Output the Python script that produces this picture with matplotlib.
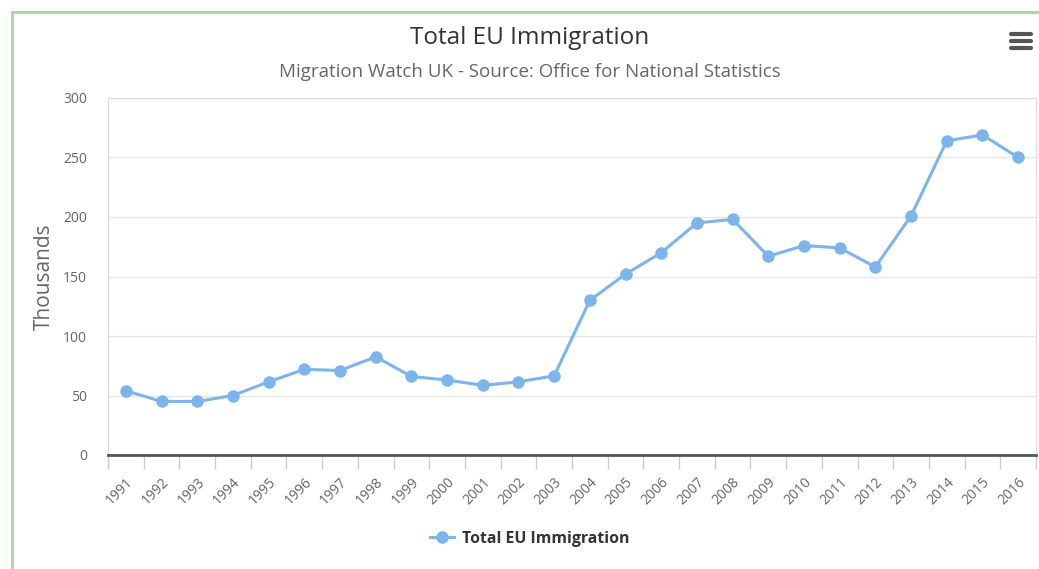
import matplotlib
matplotlib.use("Agg")
import matplotlib.pyplot as plt
from matplotlib.lines import Line2D
import numpy as np

years = [str(y) for y in range(1991, 2017)]
values = [54, 45, 45, 50, 61.5, 72, 71, 82.5, 66, 63, 58.5, 61.5, 66.5,
          130, 152, 170, 195, 198, 167, 176, 174, 158, 201, 264, 269, 250]
yticks = [0, 50, 100, 150, 200, 250, 300]
series_name = "Total EU Immigration"
title = "Total EU Immigration"
subtitle = "Migration Watch UK - Source: Office for National Statistics"
ylabel = "Thousands"

plt.rcParams['font.family'] = ['Open Sans', 'DejaVu Sans']

W, H = 1039, 569
fig = plt.figure(figsize=(W / 100, H / 100), dpi=100)
fig.patch.set_facecolor('white')

# container border (green, left & top)
fig.add_artist(Line2D([12 / W, 12 / W], [0, 1 - 12 / H], transform=fig.transFigure,
                      color='#a8d5a2', lw=2))
fig.add_artist(Line2D([12 / W, 1], [1 - 12 / H, 1 - 12 / H], transform=fig.transFigure,
                      color='#a8d5a2', lw=2))

left, right, top, bottom = 108, 1036, 98, 455
ax = fig.add_axes([left / W, 1 - bottom / H, (right - left) / W, (bottom - top) / H])

x = np.arange(len(years))
ax.plot(x, values, color='#7cb5ec', lw=2.2, marker='o', markersize=9,
        markeredgewidth=0, label=series_name, zorder=3)

ax.set_xlim(-0.5, len(years) - 0.5)
ax.set_ylim(0, 300)
ax.set_yticks(yticks)
ax.set_yticklabels([str(v) for v in yticks], fontsize=10, color='#666666')
ax.tick_params(axis='y', length=0, pad=15)
ax.yaxis.grid(True, color='#e6e6e6', lw=1)
ax.set_axisbelow(True)

ax.set_xticks(x)
ax.set_xticklabels(years, rotation=45, ha='right', rotation_mode='anchor',
                   fontsize=10, color='#666666')
ax.tick_params(axis='x', which='major', length=0, pad=14)
ax.set_xticks(np.arange(len(years) + 1) - 0.5, minor=True)
ax.tick_params(axis='x', which='minor', length=10, color='#cccccc', width=1)

for s in ['left', 'top']:
    ax.spines[s].set_color('#d8d8d8')
ax.spines['right'].set_color('#e8d6dc')
ax.spines['bottom'].set_color('#4d5866')
ax.spines['bottom'].set_linewidth(2)

ax.set_ylabel(ylabel, fontsize=15, color='#666666', labelpad=6)

fig.text(530 / W, 1 - 38 / H, title, ha='center', va='center', fontsize=17.5, color='#333333')
fig.text(530 / W, 1 - 72 / H, subtitle, ha='center', va='center', fontsize=13.5, color='#666666')

# hamburger icon
for yy in [34, 41, 48]:
    fig.add_artist(Line2D([1011 / W, 1031 / W], [1 - yy / H, 1 - yy / H],
                          transform=fig.transFigure, color='#555555', lw=3,
                          solid_capstyle='round'))

leg = fig.legend(loc='center', bbox_to_anchor=(530 / W, 1 - 539 / H), frameon=False,
                 prop={'weight': 'bold', 'size': 11.4}, handlelength=1.5,
                 handletextpad=0.5, labelcolor='#333333')

fig.savefig('out.png', dpi=100)
